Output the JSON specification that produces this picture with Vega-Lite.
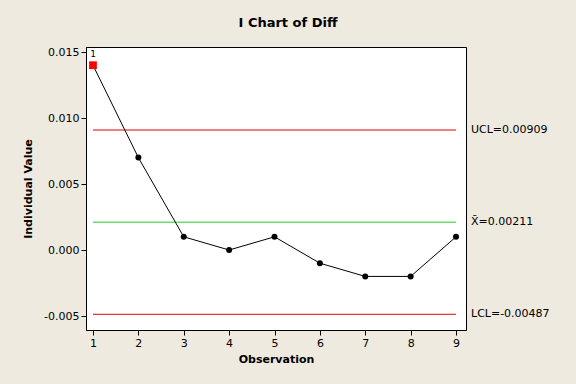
{
  "$schema": "https://vega.github.io/schema/vega-lite/v6.json",
  "width": 380,
  "height": 283,
  "autosize": "none",
  "padding": {"left": 86, "top": 47, "right": 110, "bottom": 54},
  "background": "#EEEAE0",
  "title": {"text": "I Chart of Diff", "font": "DejaVu Sans", "fontSize": 13, "fontWeight": "bold", "color": "black", "anchor": "middle", "frame": "group", "dx": 12, "offset": 16},
  "config": {
    "view": {"stroke": "black", "strokeWidth": 1, "fill": "white"},
    "axis": {"labelFont": "DejaVu Sans", "labelFontSize": 11, "labelColor": "black", "titleFont": "DejaVu Sans", "titleFontSize": 11, "titleFontWeight": "bold", "titleColor": "black", "domainColor": "black", "tickColor": "black", "tickSize": 5, "grid": false}
  },
  "resolve": {"scale": {"color": "independent", "shape": "independent", "size": "independent"}},
  "datasets": {
    "obs": [
      {"obs": 1, "value": 0.014, "flag": "fail"},
      {"obs": 2, "value": 0.007, "flag": "ok"},
      {"obs": 3, "value": 0.001, "flag": "ok"},
      {"obs": 4, "value": 0.0, "flag": "ok"},
      {"obs": 5, "value": 0.001, "flag": "ok"},
      {"obs": 6, "value": -0.001, "flag": "ok"},
      {"obs": 7, "value": -0.002, "flag": "ok"},
      {"obs": 8, "value": -0.002, "flag": "ok"},
      {"obs": 9, "value": 0.001, "flag": "ok"}
    ],
    "limits": [
      {"name": "UCL", "value": 0.00909, "label": "UCL=0.00909"},
      {"name": "CL", "value": 0.00211, "label": "X̄=0.00211"},
      {"name": "LCL", "value": -0.00487, "label": "LCL=-0.00487"}
    ]
  },
  "layer": [
    {
      "data": {"name": "limits"},
      "mark": {"type": "rule", "strokeWidth": 1},
      "encoding": {
        "x": {"datum": 1, "type": "quantitative", "scale": {"domain": [0.846, 9.22], "nice": false, "zero": false}},
        "x2": {"datum": 9},
        "y": {"field": "value", "type": "quantitative"},
        "color": {"field": "name", "type": "nominal", "scale": {"domain": ["UCL", "CL", "LCL"], "range": ["#E00000", "#22CC22", "#E00000"]}, "legend": null}
      }
    },
    {
      "data": {"name": "limits"},
      "mark": {"type": "text", "align": "left", "baseline": "middle", "dx": 5, "font": "DejaVu Sans", "fontSize": 11, "color": "black", "clip": false},
      "encoding": {
        "x": {"datum": 9.22, "type": "quantitative"},
        "y": {"field": "value", "type": "quantitative"},
        "text": {"field": "label"}
      }
    },
    {
      "data": {"name": "obs"},
      "mark": {"type": "line", "color": "black", "strokeWidth": 1},
      "encoding": {
        "x": {"field": "obs", "type": "quantitative", "scale": {"domain": [0.846, 9.22], "nice": false, "zero": false}, "axis": {"title": "Observation", "values": [1,2,3,4,5,6,7,8,9], "format": "d", "domain": true, "titlePadding": 5}},
        "y": {"field": "value", "type": "quantitative", "scale": {"domain": [-0.00606, 0.01538], "nice": false, "zero": false}, "axis": {"title": "Individual Value", "values": [-0.005, 0, 0.005, 0.01, 0.015], "format": ".3f", "labelExpr": "replace(datum.label, '−', '-')", "titlePadding": 10}}
      }
    },
    {
      "data": {"name": "obs"},
      "mark": {"type": "point", "filled": true, "opacity": 1},
      "encoding": {
        "x": {"field": "obs", "type": "quantitative"},
        "y": {"field": "value", "type": "quantitative"},
        "shape": {"field": "flag", "type": "nominal", "scale": {"domain": ["ok", "fail"], "range": ["circle", "square"]}, "legend": null},
        "color": {"field": "flag", "type": "nominal", "scale": {"domain": ["ok", "fail"], "range": ["black", "#FF0000"]}, "legend": null},
        "size": {"field": "flag", "type": "nominal", "scale": {"domain": ["ok", "fail"], "range": [36, 60]}, "legend": null}
      }
    },
    {
      "data": {"name": "obs"},
      "transform": [{"filter": "datum.flag == 'fail'"}],
      "mark": {"type": "text", "font": "DejaVu Sans", "fontSize": 9, "color": "black", "dy": -6, "baseline": "bottom"},
      "encoding": {
        "x": {"field": "obs", "type": "quantitative"},
        "y": {"field": "value", "type": "quantitative"},
        "text": {"value": "1"}
      }
    }
  ]
}
